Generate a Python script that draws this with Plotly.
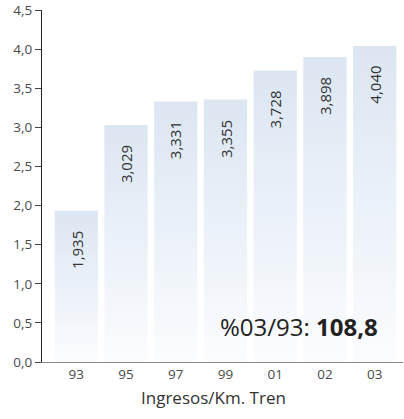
import plotly.graph_objects as go

categories = ["93", "95", "97", "99", "01", "02", "03"]
values = [1.935, 3.029, 3.331, 3.355, 3.728, 3.898, 4.040]
value_labels = ["1,935", "3,029", "3,331", "3,355", "3,728", "3,898", "4,040"]
y_ticks = [0, 0.5, 1.0, 1.5, 2.0, 2.5, 3.0, 3.5, 4.0, 4.5]
title_text = "Ingresos/Km. Tren"
summary_label = "%03/93: "
summary_value = "108,8"

FONT = "Open Sans"
half = 0.435

fig = go.Figure()
for i, v in enumerate(values):
    fig.add_trace(go.Scatter(
        x=[i - half, i + half, i + half, i - half, i - half],
        y=[0, 0, v, v, 0],
        mode="lines", line=dict(width=0),
        fill="toself",
        fillgradient=dict(type="vertical",
                          colorscale=[[0, "#fbfcfe"], [1, "#dbe6f2"]]),
        hoverinfo="skip", showlegend=False,
    ))
    fig.add_annotation(x=i, y=v, text=value_labels[i], textangle=-90,
                       showarrow=False, yanchor="top", yshift=-18,
                       font=dict(family=FONT, size=15, color="#333333"))

fig.add_annotation(xref="paper", yref="paper", x=0.936, y=0.102,
                   xanchor="right", yanchor="middle", showarrow=False,
                   text=summary_label + "<b>" + summary_value + "</b>",
                   font=dict(family=FONT, size=24, color="#222222"))
fig.add_annotation(xref="paper", yref="paper", x=0.475, y=-0.062,
                   xanchor="center", yanchor="top", showarrow=False,
                   text=title_text,
                   font=dict(family=FONT, size=17, color="#333333"))

fig.update_layout(
    width=404, height=419,
    margin=dict(l=42, r=1, t=10, b=57),
    plot_bgcolor="white", paper_bgcolor="white",
    separators=",.",
    font=dict(family=FONT, size=13.5, color="#4a4a4a"),
    xaxis=dict(range=[-0.69, 6.57], tickvals=list(range(len(categories))),
               ticktext=categories, showgrid=False, zeroline=False,
               showline=True, linecolor="#8a8a8a", linewidth=1.2,
               ticks="", tickfont=dict(size=13.5, color="#4a4a4a")),
    yaxis=dict(range=[0, 4.5], tickvals=y_ticks, tickformat=".1f",
               showgrid=False, zeroline=False, showline=True,
               linecolor="#222222", linewidth=1.3, ticks="outside",
               ticklen=6, tickcolor="#444444", tickwidth=1,
               tickfont=dict(size=13.5, color="#4a4a4a")),
)

fig.write_html("out.html", config={"displayModeBar": False},
               post_script="document.body.style.margin='0';document.body.style.overflow='hidden';")
